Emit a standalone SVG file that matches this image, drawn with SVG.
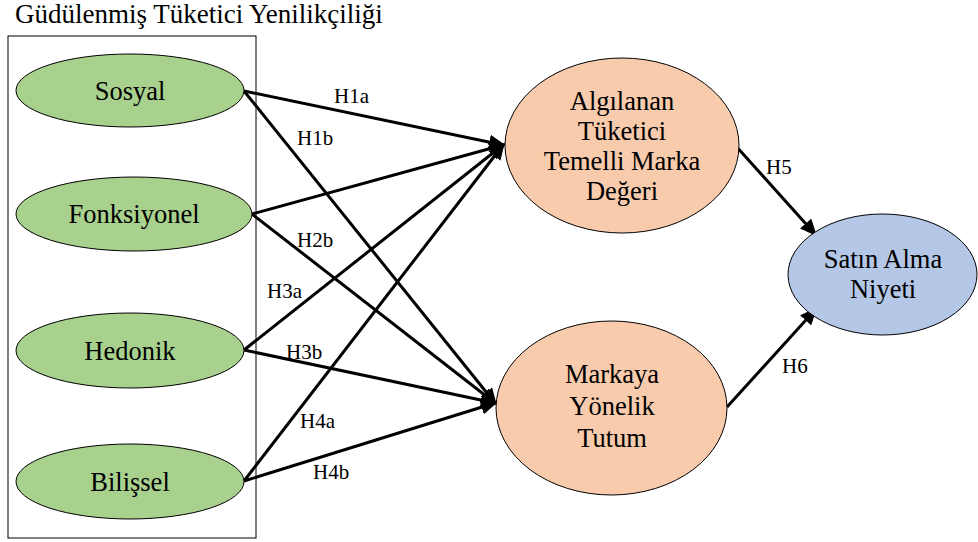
<svg xmlns="http://www.w3.org/2000/svg" width="978" height="542" viewBox="0 0 978 542" font-family="'Liberation Serif', 'Times New Roman', Times, serif">
<style>
  text { font-family: 'Liberation Serif', 'Times New Roman', Times, serif; fill: #000; }
  .node { font-size: 26.5px; text-anchor: middle; }
  .lbl { font-size: 21px; }
  .title { font-size: 27px; }
  .green { fill: #A9D18E; stroke: #000; stroke-width: 1; }
  .orange { fill: #F8CBAD; stroke: #000; stroke-width: 1; }
  .blue { fill: #B4C7E7; stroke: #000; stroke-width: 1; }
  .edge { stroke: #000; stroke-width: 3; fill: none; marker-end: url(#arrow); }
</style>
<defs>
  <marker id="arrow" markerUnits="userSpaceOnUse" markerWidth="19" markerHeight="15" refX="14" refY="7.5" orient="auto">
    <path d="M0,0 L17,7.5 L0,15 z" fill="#000"/>
  </marker>
</defs>
<rect width="978" height="542" fill="#fff"/>
<text class="title" x="15" y="23">Güdülenmiş Tüketici Yenilikçiliği</text>
<rect id="group-box" x="8" y="36" width="248" height="502" fill="none" stroke="#000" stroke-width="1"/>

<g id="connectors">
  <line class="edge" x1="244" y1="91" x2="503" y2="145"/>
  <line class="edge" x1="244" y1="91" x2="495" y2="403"/>
  <line class="edge" x1="252" y1="214" x2="503" y2="145"/>
  <line class="edge" x1="252" y1="214" x2="495" y2="403"/>
  <line class="edge" x1="244" y1="350" x2="503" y2="145"/>
  <line class="edge" x1="244" y1="350" x2="495" y2="403"/>
  <line class="edge" x1="244" y1="481" x2="503" y2="145"/>
  <line class="edge" x1="244" y1="481" x2="495" y2="403"/>
  <line class="edge" x1="735" y1="145" x2="815" y2="234"/>
  <line class="edge" x1="727" y1="407" x2="815" y2="310"/>
  <text class="lbl" x="334" y="103">H1a</text>
  <text class="lbl" x="297" y="145">H1b</text>
  <text class="lbl" x="297" y="247">H2b</text>
  <text class="lbl" x="267" y="298">H3a</text>
  <text class="lbl" x="286" y="359">H3b</text>
  <text class="lbl" x="300" y="428">H4a</text>
  <text class="lbl" x="313" y="479">H4b</text>
  <text class="lbl" x="766" y="174">H5</text>
  <text class="lbl" x="782" y="373">H6</text>
</g>

<g id="sosyal">
  <ellipse class="green" cx="130" cy="90.5" rx="114" ry="36.5"/>
  <text class="node" x="130" y="100">Sosyal</text>
</g>
<g id="fonksiyonel">
  <ellipse class="green" cx="134" cy="214" rx="118" ry="37"/>
  <text class="node" x="134" y="223">Fonksiyonel</text>
</g>
<g id="hedonik">
  <ellipse class="green" cx="130" cy="350.5" rx="114" ry="37.5"/>
  <text class="node" x="130" y="360">Hedonik</text>
</g>
<g id="bilissel">
  <ellipse class="green" cx="130" cy="481.5" rx="114" ry="37.5"/>
  <text class="node" x="130" y="491">Bilişsel</text>
</g>
<g id="marka-degeri">
  <ellipse class="orange" cx="622" cy="145.5" rx="117" ry="87.5"/>
  <text class="node" x="622" y="110">Algılanan</text>
  <text class="node" x="622" y="140">Tüketici</text>
  <text class="node" x="622" y="170">Temelli Marka</text>
  <text class="node" x="622" y="200">Değeri</text>
</g>
<g id="markaya-yonelik-tutum">
  <ellipse class="orange" cx="611.5" cy="408" rx="115.5" ry="87"/>
  <text class="node" x="612" y="383">Markaya</text>
  <text class="node" x="612" y="415">Yönelik</text>
  <text class="node" x="612" y="447">Tutum</text>
</g>
<g id="satin-alma-niyeti">
  <ellipse class="blue" cx="882.5" cy="274.5" rx="94.5" ry="60.5"/>
  <text class="node" x="883" y="268">Satın Alma</text>
  <text class="node" x="883" y="298">Niyeti</text>
</g>
</svg>
